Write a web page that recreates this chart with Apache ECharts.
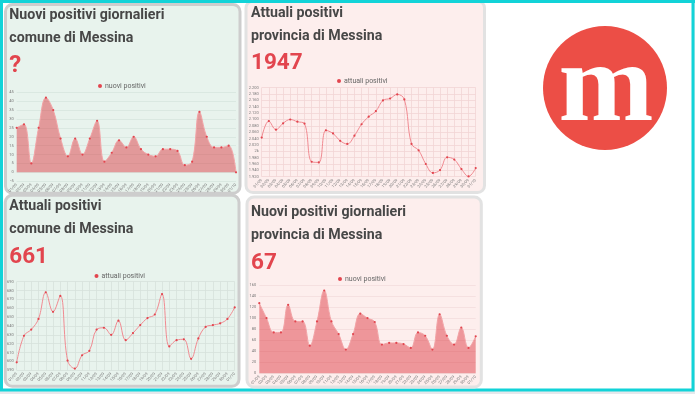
<!DOCTYPE html>
<html>
<head>
<meta charset="utf-8">
<script src="https://cdn.jsdelivr.net/npm/echarts@6/dist/echarts.min.js"></script>
<style>
  html, body { margin: 0; padding: 0; background: #e6e8ec; }
  #c { width: 695px; height: 394px; }
</style>
</head>
<body>
<div id="c"></div>
<script>
const dates = ['01/09','02/09','03/09','04/09','05/09','06/09','07/09','08/09','09/09','10/09',
  '11/09','12/09','13/09','14/09','15/09','16/09','17/09','18/09','19/09','20/09',
  '21/09','22/09','23/09','24/09','25/09','26/09','27/09','28/09','29/09','30/09','01/10'];

const nuoviComune = [25,27,5,25,42,35,19,9,19,10,19,29,6,11,18,14,20,13,10,9,13,13,12,4,6,34,20,14,14,15,0];
const attualiProvincia = [2043,2095,2068,2088,2100,2093,2087,1967,1965,2066,2056,2033,2023,2049,2085,2109,2126,2160,2166,2179,2163,2023,2003,1960,1932,1941,1981,1974,1944,1921,1947];
const attualiComune = [599,629,636,648,678,656,674,601,592,607,612,636,638,630,646,624,632,641,649,653,676,617,624,625,603,626,639,641,643,648,661];
const nuoviProvincia = [127,100,74,74,124,94,94,50,94,150,94,71,43,71,108,100,93,52,55,55,53,46,74,68,43,107,68,52,83,46,67];

const panelTitles = [
  'Nuovi positivi giornalieri\ncomune di Messina',
  'Attuali positivi\nprovincia di Messina',
  'Attuali positivi\ncomune di Messina',
  'Nuovi positivi giornalieri\nprovincia di Messina'
];
const panelNumbers = ['?', '1947', '661', '67'];
const seriesNames = ['nuovi positivi', 'attuali positivi', 'attuali positivi', 'nuovi positivi'];

const RED = '#e2454e';
const MINT = '#e8f3ed';
const PINK = '#fdeeed';
const FONT = 'Roboto';

function itFmt(v) {
  if (v === 2000) return '2k';
  if (v >= 1000) {
    const r = String(v % 1000).padStart(3, '0');
    return Math.floor(v / 1000) + '.' + r;
  }
  return String(v);
}

const chart = echarts.init(document.getElementById('c'), null, { renderer: 'canvas' });

const grids = [
  { left: 16.7, top: 92.3, width: 219.3, height: 88.9 },
  { left: 261.7, top: 87.7, width: 214, height: 89 },
  { left: 16.7, top: 281.7, width: 218, height: 88.6 },
  { left: 259.3, top: 285, width: 216.4, height: 88.3 }
];

const gridLineColors = ['#d6e4dd', '#f1d4d4', '#d6e1db', '#f3dcdc'];
const showVert = [false, true, true, false];
const yCfg = [
  { min: -5, max: 45, interval: 5 },
  { min: 1920, max: 2200, interval: 20 },
  { min: 590, max: 690, interval: 10 },
  { min: 0, max: 160, interval: 20 }
];

const xAxes = grids.map((g, i) => ({
  type: 'category', gridIndex: i, data: dates, boundaryGap: false,
  axisLine: { show: false }, axisTick: { show: false },
  axisLabel: { rotate: 45, interval: 0, fontSize: 4, color: '#777', margin: 3, fontFamily: FONT },
  splitLine: { show: showVert[i], lineStyle: { color: gridLineColors[i], width: 0.8 } }
}));

const yAxes = grids.map((g, i) => ({
  type: 'value', gridIndex: i, min: yCfg[i].min, max: yCfg[i].max, interval: yCfg[i].interval,
  axisLine: { show: false }, axisTick: { show: false },
  axisLabel: { fontSize: 4, color: '#777', margin: 3, fontFamily: FONT, formatter: itFmt },
  splitLine: { show: true, lineStyle: { color: gridLineColors[i], width: 0.8 } }
}));

const dataSets = [nuoviComune, attualiProvincia, attualiComune, nuoviProvincia];
const isArea = [true, false, false, true];

const series = dataSets.map((d, i) => ({
  name: seriesNames[i], type: 'line', xAxisIndex: i, yAxisIndex: i, data: d,
  smooth: 0.4, symbol: 'circle', symbolSize: 2.2, showSymbol: true,
  itemStyle: { color: RED },
  lineStyle: { color: isArea[i] ? '#f2a3a6' : '#f08a91', width: 1 },
  areaStyle: isArea[i] ? { color: 'rgba(218,36,46,0.62)' } : undefined,
  emphasis: { disabled: true }, animation: false
}));

const titleTops = [4.3, 1.8, 194.7, 201];
const titleLefts = [9.3, 251, 9.3, 251];
const numCenters = [66, 63.3, 257, 263];

const titles = [];
panelTitles.forEach((t, i) => {
  titles.push({
    text: t, left: titleLefts[i], top: titleTops[i], padding: 0,
    textStyle: { fontFamily: FONT, fontSize: 14.2, fontWeight: 'bold', color: '#474747', lineHeight: 23 }
  });
  titles.push({
    text: panelNumbers[i], left: titleLefts[i], top: numCenters[i] - 13, padding: 0,
    textStyle: { fontFamily: FONT, fontSize: i === 0 ? 24 : 22.5, fontWeight: 'bold', color: RED, lineHeight: 26 }
  });
});

const legendPos = [[98, 82.5], [337, 77.5], [94.5, 272.5], [338, 275.5]];
const legends = legendPos.map((p, i) => ({
  data: [seriesNames[i]], left: p[0], top: p[1], padding: 0,
  icon: 'circle', itemWidth: 4, itemHeight: 4, selectedMode: false,
  textStyle: { fontFamily: FONT, fontSize: 7, color: '#666', padding: [0, 0, 0, -2] }
}));

const panels = [
  { x: 5.5, y: 4.5, w: 234.5, h: 188.8, fill: MINT, stroke: '#cdcdcd' },
  { x: 246, y: 1, w: 238.5, h: 191.5, fill: PINK, stroke: '#e2e2e2' },
  { x: 5.3, y: 195.3, w: 233.7, h: 191, fill: MINT, stroke: '#cdcdcd' },
  { x: 247, y: 197, w: 234.3, h: 190, fill: PINK, stroke: '#e2e2e2' }
];

const graphics = [
  { type: 'rect', z: -20, silent: true,
    shape: { x: 1.5, y: 1.5, width: 691.5, height: 388.5 },
    style: { fill: '#ffffff', stroke: '#12d3d8', lineWidth: 3 } }
];
panels.forEach(p => graphics.push({
  type: 'rect', z: -10, silent: true,
  shape: { x: p.x, y: p.y, width: p.w, height: p.h, r: 7 },
  style: { fill: p.fill, stroke: p.stroke, lineWidth: 3 }
}));
graphics.push({ type: 'line', z: -5, silent: true, shape: { x1: 0, y1: 1.5, x2: 695, y2: 1.5 }, style: { stroke: '#12d3d8', lineWidth: 3 } });
graphics.push({ type: 'circle', z: 10, silent: true, shape: { cx: 605, cy: 88, r: 62 }, style: { fill: '#ec4e46' } });
graphics.push({ type: 'text', z: 11, silent: true, x: 606, y: 88.5, scaleY: 0.98, originX: 0, originY: 0,
  style: { text: 'm', x: 0, y: 2.5, fill: '#ffffff', font: 'bold 114px "Liberation Serif"', align: 'center', verticalAlign: 'middle' } });

chart.setOption({
  animation: false,
  backgroundColor: 'transparent',
  title: titles,
  legend: legends,
  grid: grids,
  xAxis: xAxes,
  yAxis: yAxes,
  series: series,
  graphic: graphics
});
</script>
</body>
</html>
